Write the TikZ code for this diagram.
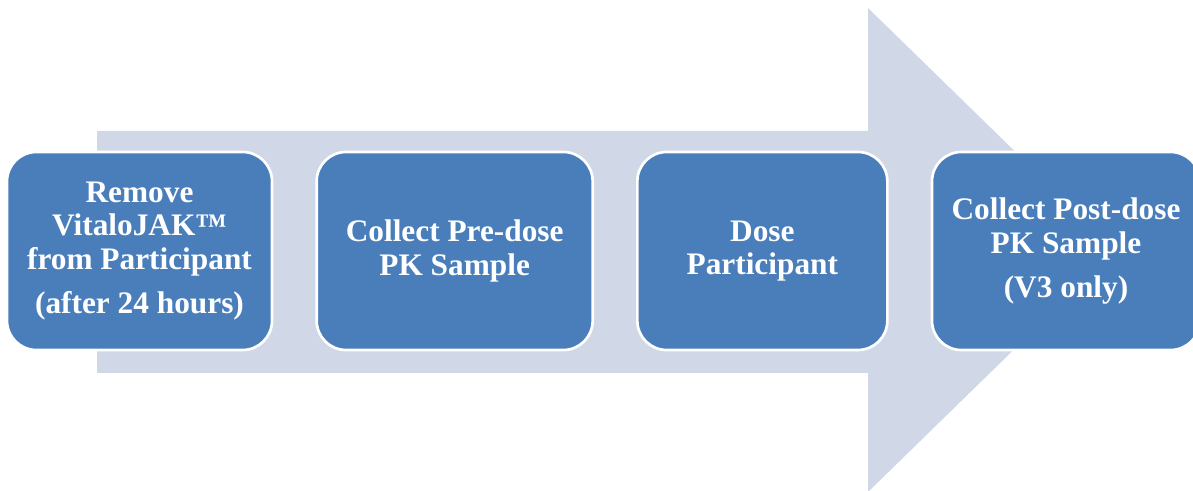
\documentclass[tikz,border=0pt]{standalone}
\usepackage{fontspec}
\setmainfont{Liberation Serif}
\usepackage{tikz}
\usetikzlibrary{positioning}
\usepackage{xcolor}
\definecolor{stepblue}{RGB}{74,126,187}
\definecolor{arrowgray}{RGB}{208,216,232}

\begin{document}
\begin{tikzpicture}[x=0.75pt,y=-0.75pt,
	  every node/.style={align=center,text=white,font=\bfseries\fontsize{23.5}{25}\selectfont},
	  stage/.style={draw=white,line width=2pt,rounded corners=22pt,fill=stepblue,minimum height=148.5pt,inner sep=0pt},
	  backarrow/.style={fill=arrowgray,draw=none},
	  node distance=31.5pt]

	  \useasboundingbox (0,0) rectangle (1193,491);

	  % Big arrow behind the stages
	  \fill[backarrow] (97,131) -- (868,131) -- (868,8) -- (1116,250) -- (868,492) -- (868,373) -- (97,373) -- cycle;

	  % Position the nodes left to right
	  \node[stage,minimum width=198.75pt] (remove) at (139.5,251) {Remove\\VitaloJAK™\\from Participant\\[8pt](after 24 hours)};
	  \node[stage,minimum width=207pt,right=of remove] (predose) {Collect Pre-dose\\PK Sample};
	  \node[stage,minimum width=187.5pt,right=of predose] (dose) {Dose\\Participant};
	  \node[stage,minimum width=201pt,right=of dose] (postdose) {Collect Post-dose\\PK Sample\\[8pt](V3 only)};
\end{tikzpicture}
\end{document}
